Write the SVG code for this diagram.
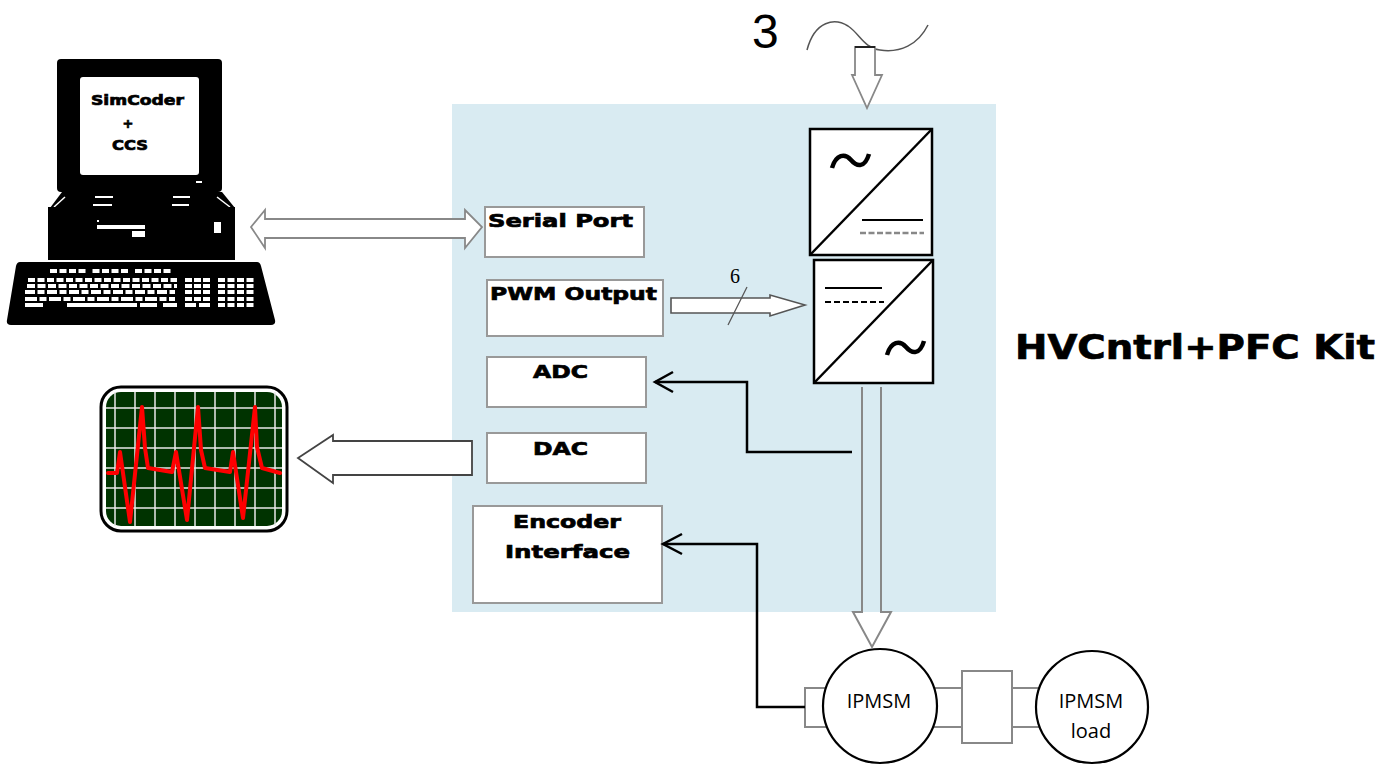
<svg xmlns="http://www.w3.org/2000/svg" width="1393" height="766" viewBox="0 0 1393 766">
  <style>
    .blk { font-family: "DejaVu Sans", "Liberation Sans", sans-serif; font-weight: bold; fill: #000; stroke: #000; stroke-width: 0.7; }
    .box { fill: #fff; stroke: #999; stroke-width: 2; }
    .conv { fill: #fff; stroke: #000; stroke-width: 2.5; }
    .hollow { fill: #fff; stroke: #888; stroke-width: 1.8; stroke-linejoin: miter; }
    .wire { fill: none; stroke: #000; stroke-width: 2.5; }
    .mot { fill: #fff; stroke: #000; stroke-width: 2.2; }
    .shaft { fill: #fff; stroke: #888; stroke-width: 2; }
    .motor-text { font-family: "Open Sans", "Noto Sans", sans-serif; font-size: 20px; fill: #000; text-anchor: middle; }
    .key { stroke: #fff; stroke-width: 4; }
  </style>

  <rect width="1393" height="766" fill="#fff"/>

  <!-- control board area -->
  <g id="board">
    <rect x="452" y="104" width="544" height="508" fill="#d9ebf2"/>
  </g>

  <!-- desktop PC -->
  <g id="pc">
    <rect x="57" y="59" width="165" height="133" rx="4" fill="#000"/>
    <rect x="80" y="77" width="119" height="98" rx="3" fill="#fff"/>
    <rect x="196" y="181" width="6" height="2" fill="#fff"/>
    <polygon points="50,208 62,192 222,192 235,208" fill="#000"/>
    <line x1="54" y1="207" x2="65" y2="197" stroke="#fff" stroke-width="1.5"/>
    <line x1="217" y1="197" x2="230" y2="207" stroke="#fff" stroke-width="1.5"/>
    <line x1="95" y1="197" x2="113" y2="197" stroke="#fff" stroke-width="2"/>
    <line x1="173" y1="197" x2="190" y2="197" stroke="#fff" stroke-width="2"/>
    <line x1="93" y1="205" x2="112" y2="205" stroke="#fff" stroke-width="2"/>
    <line x1="172" y1="205" x2="189" y2="205" stroke="#fff" stroke-width="2"/>
    <rect x="48" y="207" width="187" height="53" fill="#000"/>
    <rect x="97" y="220" width="2" height="2" fill="#fff"/>
    <rect x="97" y="225" width="48" height="4" fill="#fff"/>
    <rect x="132" y="231" width="13" height="6" fill="#fff"/>
    <rect x="214" y="222" width="7" height="11" fill="#fff"/>
    <path d="M20,262 L257,262 Q260,262 261,266 L275,320 Q276,325 271,325 L11,325 Q6,325 7,320 L16,266 Q17,262 20,262 Z" fill="#000"/>
    <g class="key">
      <line x1="50" y1="271" x2="174" y2="271" stroke-dasharray="7,2.5 7,2.5 7,2.5 7,7 7,2.5 7,2.5 7,2.5 7,7 7,2.5 7,2.5 7,2.5 7,50"/>
      <line x1="28" y1="280" x2="177" y2="280" stroke-dasharray="7,2.5"/>
      <line x1="185" y1="280" x2="210" y2="280" stroke-dasharray="7,2"/>
      <line x1="218" y1="280" x2="255" y2="280" stroke-dasharray="7,2.5"/>
      <line x1="27" y1="286" x2="177" y2="286" stroke-dasharray="8,2.5"/>
      <line x1="185" y1="286" x2="210" y2="286" stroke-dasharray="7,2"/>
      <line x1="218" y1="286" x2="255" y2="286" stroke-dasharray="7,2.5"/>
      <line x1="25" y1="292" x2="175" y2="292" stroke-dasharray="10,2.5 7,2.5"/>
      <line x1="185" y1="292" x2="210" y2="292" stroke-dasharray="7,2"/>
      <line x1="218" y1="292" x2="255" y2="292" stroke-dasharray="7,2.5"/>
      <line x1="25" y1="299" x2="175" y2="299" stroke-dasharray="12,2.5 7,2.5"/>
      <line x1="185" y1="299" x2="210" y2="299" stroke-dasharray="7,2"/>
      <line x1="218" y1="299" x2="255" y2="299" stroke-dasharray="7,2.5"/>
      <line x1="25" y1="305" x2="43" y2="305"/>
      <line x1="67" y1="305" x2="137" y2="305"/>
      <line x1="140" y1="305" x2="157" y2="305"/>
      <line x1="163" y1="305" x2="177" y2="305"/>
      <line x1="185" y1="305" x2="210" y2="305" stroke-dasharray="11,3"/>
      <line x1="218" y1="305" x2="255" y2="305" stroke-dasharray="7,2.5"/>
    </g>
    <text class="blk" x="91" y="105" font-size="14" textLength="93" lengthAdjust="spacingAndGlyphs">SimCoder</text>
    <text class="blk" x="128" y="128" font-size="13" text-anchor="middle">+</text>
    <text class="blk" x="112" y="150" font-size="14" textLength="36" lengthAdjust="spacingAndGlyphs">CCS</text>
  </g>

  <!-- oscilloscope -->
  <g id="scope">
    <rect x="101" y="387" width="186" height="144" rx="20" fill="#fff" stroke="#000" stroke-width="3"/>
    <rect x="106" y="392" width="176" height="134" rx="15" fill="#003300"/>
    <g stroke="#e8e8e8" stroke-width="1.5">
      <line x1="115" y1="392" x2="115" y2="526"/>
      <line x1="135" y1="392" x2="135" y2="526"/>
      <line x1="155" y1="392" x2="155" y2="526"/>
      <line x1="175" y1="392" x2="175" y2="526"/>
      <line x1="195" y1="392" x2="195" y2="526"/>
      <line x1="215" y1="392" x2="215" y2="526"/>
      <line x1="235" y1="392" x2="235" y2="526"/>
      <line x1="255" y1="392" x2="255" y2="526"/>
      <line x1="275" y1="392" x2="275" y2="526"/>
      <line x1="106" y1="408" x2="282" y2="408"/>
      <line x1="106" y1="428" x2="282" y2="428"/>
      <line x1="106" y1="448" x2="282" y2="448"/>
      <line x1="106" y1="468" x2="282" y2="468"/>
      <line x1="106" y1="488" x2="282" y2="488"/>
      <line x1="106" y1="508" x2="282" y2="508"/>
    </g>
    <polyline fill="none" stroke="#ff0000" stroke-width="4" stroke-linejoin="round" stroke-linecap="round"
      points="108,473 117,473 120,452 130,522 142,407 145,448 148,468 172,472 176,452 187,520 198,407 201,450 205,468 230,472 233,452 243,518 255,407 257,447 262,468 280,473"/>
  </g>

  <!-- peripherals on the board -->
  <g id="serial-port">
    <rect class="box" x="485" y="207" width="159" height="50"/>
    <text class="blk" x="488" y="227" font-size="18" textLength="145" lengthAdjust="spacingAndGlyphs">Serial Port</text>
  </g>
  <g id="pwm-output">
    <rect class="box" x="487" y="280" width="176" height="56"/>
    <text class="blk" x="490" y="300" font-size="18" textLength="167" lengthAdjust="spacingAndGlyphs">PWM Output</text>
  </g>
  <g id="adc">
    <rect class="box" x="487" y="357" width="159" height="50"/>
    <text class="blk" x="533" y="378" font-size="18" textLength="55" lengthAdjust="spacingAndGlyphs">ADC</text>
  </g>
  <g id="dac">
    <rect class="box" x="487" y="433" width="159" height="50"/>
    <text class="blk" x="533" y="455" font-size="18" textLength="55" lengthAdjust="spacingAndGlyphs">DAC</text>
  </g>
  <g id="encoder">
    <rect class="box" x="473" y="506" width="189" height="97"/>
    <text class="blk" x="513" y="528" font-size="18" textLength="108" lengthAdjust="spacingAndGlyphs">Encoder</text>
    <text class="blk" x="505" y="558" font-size="18" textLength="125" lengthAdjust="spacingAndGlyphs">Interface</text>
  </g>

  <!-- AC/DC rectifier stage -->
  <g id="rectifier">
    <rect class="conv" x="810" y="129" width="122" height="126"/>
    <line x1="810" y1="255" x2="932" y2="129" stroke="#000" stroke-width="2.5"/>
    <path d="M832,168 C836,154 845,153 851,160 C857,167 865,168 869,154" fill="none" stroke="#000" stroke-width="4.5"/>
    <line x1="862" y1="220" x2="923" y2="220" stroke="#000" stroke-width="2"/>
    <line x1="860" y1="233" x2="924" y2="233" stroke="#888" stroke-width="2.5" stroke-dasharray="6,2.5"/>
  </g>

  <!-- DC/AC inverter stage -->
  <g id="inverter">
    <rect class="conv" x="814" y="260" width="119" height="123"/>
    <line x1="814" y1="383" x2="933" y2="260" stroke="#000" stroke-width="2.5"/>
    <line x1="825" y1="288" x2="882" y2="288" stroke="#000" stroke-width="2"/>
    <line x1="825" y1="302" x2="884" y2="302" stroke="#000" stroke-width="2" stroke-dasharray="6,3"/>
    <path d="M887,355 C891,341 900,340 906,347 C912,354 920,355 924,341" fill="none" stroke="#000" stroke-width="4.5"/>
  </g>

  <!-- three-phase supply -->
  <g id="supply">
    <text x="752" y="48" font-family="Liberation Sans, Arial, sans-serif" font-size="48" fill="#000">3</text>
    <path d="M807,50 C815,20 835,18 848,26 C860,34 864,48 880,50 C900,53 918,45 928,25" fill="none" stroke="#555" stroke-width="1.5"/>
  </g>

  <!-- motor, coupling and load machine -->
  <g id="motor">
    <rect class="shaft" x="805" y="688" width="30" height="39"/>
    <rect class="shaft" x="925" y="688" width="40" height="39"/>
    <circle class="mot" cx="880" cy="706" r="57"/>
    <text class="motor-text" x="879" y="708">IPMSM</text>
  </g>
  <g id="coupling">
    <rect class="shaft" x="1005" y="688" width="40" height="39"/>
    <rect class="shaft" x="962" y="671" width="50" height="72"/>
  </g>
  <g id="load">
    <circle class="mot" cx="1092" cy="707" r="56"/>
    <text class="motor-text" x="1091" y="708">IPMSM</text>
    <text class="motor-text" x="1091" y="738">load</text>
  </g>

  <g id="kit-label">
    <text class="blk" x="1015" y="359" font-size="33" stroke-width="1.2" textLength="360" lengthAdjust="spacingAndGlyphs">HVCntrl+PFC Kit</text>
  </g>

  <!-- connectors -->
  <g id="connectors">
    <!-- supply into rectifier -->
    <path class="hollow" d="M855,47 L875,47 L875,75 L882,75 L867,108 L852,75 L855,75 Z"/>
    <line x1="855" y1="47" x2="875" y2="47" stroke="#222" stroke-width="2"/>
    <!-- PC <-> serial port -->
    <path class="hollow" d="M251,227 L265,210 L265,219 L465,219 L465,210 L482,227 L465,248 L465,238 L265,238 L265,248 Z"/>
    <!-- PWM gate signals -->
    <path d="M671,298 L770,298 L770,295 L805,305 L770,316 L770,313 L671,313 Z" fill="#fff" stroke="#555" stroke-width="1.6"/>
    <line x1="747" y1="287" x2="728" y2="325" stroke="#555" stroke-width="1.3"/>
    <text x="735" y="283" font-family="Liberation Serif, serif" font-size="20" text-anchor="middle" fill="#000">6</text>
    <!-- DAC to scope -->
    <path d="M472,441 L333,441 L333,435 L298,458 L333,483 L333,475 L472,475 Z" fill="#fff" stroke="#444" stroke-width="1.8"/>
    <!-- inverter to motor -->
    <path d="M862,387 L862,612 L853,612 L872,647 L891,612 L881,612 L881,387" fill="none" stroke="#888" stroke-width="2"/>
    <!-- current feedback to ADC -->
    <polyline class="wire" points="852,452 747,452 747,382 655,382"/>
    <polyline class="wire" points="673,372 655,382 673,392"/>
    <!-- encoder feedback -->
    <polyline class="wire" points="805,707 757,707 757,544 663,544"/>
    <polyline class="wire" points="682,534 663,544 682,554"/>
  </g>
</svg>
